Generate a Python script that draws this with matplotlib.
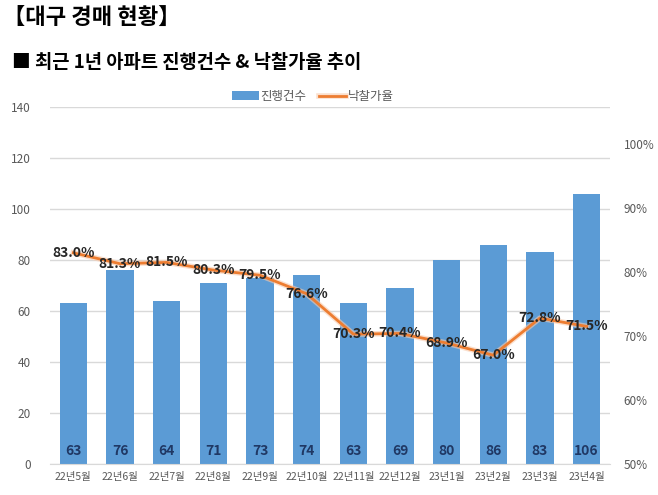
import matplotlib.pyplot as plt
import matplotlib.patheffects as pe
import numpy as np

plt.rcParams['font.family'] = ['Noto Sans CJK KR', 'DejaVu Sans']

months = ['22년5월', '22년6월', '22년7월', '22년8월', '22년9월', '22년10월',
          '22년11월', '22년12월', '23년1월', '23년2월', '23년3월', '23년4월']
counts = [63, 76, 64, 71, 73, 74, 63, 69, 80, 86, 83, 106]
rates = [83.0, 81.3, 81.5, 80.3, 79.5, 76.6, 70.3, 70.4, 68.9, 67.0, 72.8, 71.5]

bar_color = '#5B9BD5'
line_color = '#ED7D31'
tick_color = '#595959'
label_color = '#203864'

fig = plt.figure(figsize=(6.58, 4.95), dpi=100)
fig.text(0.004, 0.963, '【대구 경매 현황】', fontsize=16, fontweight='bold', va='center')
fig.text(0.018, 0.874, '■ 최근 1년 아파트 진행건수 & 낙찰가율 추이', fontsize=13.5,
         fontweight='bold', va='center')

ax = fig.add_axes([0.076, 0.0626, 0.851, 0.7214])
x = np.arange(len(months))
bars = ax.bar(x, counts, width=0.58, color=bar_color, zorder=2, label='진행건수')
ax.set_xlim(-0.5, len(months) - 0.5)
ax.set_ylim(0, 140)
ax.set_yticks(range(0, 141, 20))
ax.grid(axis='y', color='#D9D9D9', linewidth=1, zorder=0)
ax.set_axisbelow(True)
for s in ['top', 'right', 'left']:
    ax.spines[s].set_visible(False)
ax.spines['bottom'].set_color('#D9D9D9')
ax.tick_params(axis='both', length=0, colors=tick_color)
ax.tick_params(axis='y', labelsize=8.5, pad=14)
ax.set_xticks(x)
ax.set_xticklabels(months, fontsize=7.5)
ax.tick_params(axis='x', pad=6)

for xi, c in zip(x, counts):
    ax.text(xi, 5, str(c), ha='center', va='center', fontsize=10,
            fontweight='bold', color=label_color, zorder=4)

ax2 = ax.twinx()
ax2.set_ylim(50, 105.8)
ax2.set_yticks(range(50, 101, 10))
ax2.set_yticklabels([f'{v}%' for v in range(50, 101, 10)])
for s in ['top', 'right', 'left', 'bottom']:
    ax2.spines[s].set_visible(False)
ax2.tick_params(axis='y', length=0, colors=tick_color, labelsize=8.5, pad=10)
line, = ax2.plot(x, rates, color=line_color, linewidth=2, zorder=3, label='낙찰가율',
                 path_effects=[pe.Stroke(linewidth=4, foreground='#F8CBAD', alpha=0.6),
                               pe.Normal()])
for xi, r in zip(x, rates):
    ax2.text(xi, r, f'{r:.1f}%', ha='center', va='center', fontsize=10,
             fontweight='bold', color='#262626', zorder=5)

fig.legend([bars, line], ['진행건수', '낙찰가율'], loc='center',
           bbox_to_anchor=(0.475, 0.805), ncol=2, frameon=False, fontsize=9,
           labelcolor=tick_color, handlelength=2.2, handletextpad=0.1,
           columnspacing=1.0)

fig.savefig('out.png', dpi=100)
